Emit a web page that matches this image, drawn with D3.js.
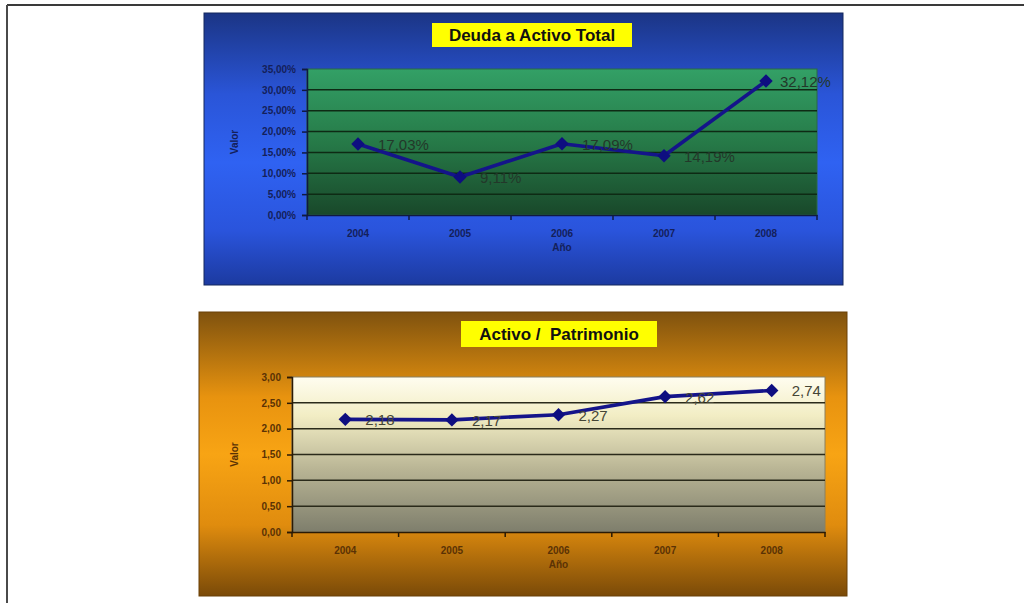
<!DOCTYPE html>
<html>
<head>
<meta charset="utf-8">
<script src="https://cdn.jsdelivr.net/npm/d3@7/dist/d3.min.js"></script>
<style>
  html, body { margin: 0; padding: 0; background: #fff; }
  svg { display: block; }
  text { font-family: "Liberation Sans", Arial, sans-serif; }
</style>
</head>
<body>
<svg id="page" width="1024" height="603"></svg>
<script>
// Años del período analizado
const years = ["2004", "2005", "2006", "2007", "2008"];

// Deuda a Activo Total (%)
const deudaActivo = [17.03, 9.11, 17.09, 14.19, 32.12];
const deudaTicks = [0, 5, 10, 15, 20, 25, 30, 35];

// Activo / Patrimonio (veces)
const activoPatrimonio = [2.18, 2.17, 2.27, 2.62, 2.74];
const activoTicks = [0, 0.5, 1, 1.5, 2, 2.5, 3];

const fmt2 = v => d3.format(".2f")(v).replace(".", ",");

const svg = d3.select("#page");
const defs = svg.append("defs");

function linGrad(id, stops) {
  const g = defs.append("linearGradient").attr("id", id)
    .attr("x1", 0).attr("y1", 0).attr("x2", 0).attr("y2", 1);
  stops.forEach(([o, c]) => g.append("stop").attr("offset", o).attr("stop-color", c));
}
linGrad("bgBlue", [[0, "#1b3585"], [0.3, "#2a55d8"], [0.55, "#2f62f2"], [0.8, "#2a54dc"], [1, "#1c3aa0"]]);
linGrad("plotGreen", [[0, "#33a066"], [0.5, "#267a48"], [1, "#19482a"]]);
linGrad("bgOrange", [[0, "#7f520e"], [0.3, "#e8930f"], [0.5, "#f8a414"], [0.75, "#e08c0e"], [1, "#7a4a08"]]);
linGrad("plotCream", [[0, "#fffdf0"], [0.25, "#f2edc4"], [0.6, "#b8b494"], [1, "#7e7e6c"]]);

// Página: bordes superior e izquierdo
svg.append("line").attr("x1", 7).attr("y1", 5).attr("x2", 1024).attr("y2", 5)
  .attr("stroke", "#3a3a3a").attr("stroke-width", 2);
svg.append("line").attr("x1", 7).attr("y1", 5).attr("x2", 7).attr("y2", 603)
  .attr("stroke", "#4a4a4a").attr("stroke-width", 2);

function drawChart(cfg) {
  const g = svg.append("g");
  // Fondo del gráfico
  g.append("rect").attr("x", cfg.box.x).attr("y", cfg.box.y)
    .attr("width", cfg.box.w).attr("height", cfg.box.h)
    .attr("fill", `url(#${cfg.bg})`).attr("stroke", cfg.boxStroke).attr("stroke-width", 1);

  // Título en recuadro amarillo
  g.append("rect").attr("x", cfg.title.x).attr("y", cfg.title.y)
    .attr("width", cfg.title.w).attr("height", cfg.title.h)
    .attr("fill", "#ffff00");
  g.append("text").attr("x", cfg.title.x + cfg.title.w / 2).attr("y", cfg.title.y + cfg.title.h / 2 + 6)
    .attr("text-anchor", "middle").attr("font-weight", "bold").attr("font-size", 17)
    .attr("fill", "#111").attr("xml:space", "preserve").text(cfg.title.text);

  const x = d3.scaleBand().domain(years).range([cfg.plot.x0, cfg.plot.x1]);
  const y = d3.scaleLinear().domain([0, cfg.yMax]).range([cfg.plot.y1, cfg.plot.y0]);

  // Área de trazado
  g.append("rect").attr("x", cfg.plot.x0).attr("y", cfg.plot.y0)
    .attr("width", cfg.plot.x1 - cfg.plot.x0).attr("height", cfg.plot.y1 - cfg.plot.y0)
    .attr("fill", `url(#${cfg.plotFill})`).attr("stroke", cfg.plotStroke).attr("stroke-width", 1);

  // Líneas de división
  g.append("g").selectAll("line").data(cfg.ticks.filter(t => t > 0 && t < cfg.yMax)).join("line")
    .attr("x1", cfg.plot.x0).attr("x2", cfg.plot.x1)
    .attr("y1", d => y(d)).attr("y2", d => y(d))
    .attr("stroke", cfg.gridColor).attr("stroke-width", 1.5);

  // Eje Y
  const yAxis = g.append("g").attr("transform", `translate(${cfg.plot.x0},0)`)
    .call(d3.axisLeft(y).tickValues(cfg.ticks).tickSize(5).tickPadding(6).tickFormat(cfg.tickFmt));
  yAxis.select(".domain").attr("stroke", cfg.axisColor).attr("stroke-width", 1.5);
  yAxis.selectAll(".tick line").attr("stroke", cfg.axisColor).attr("stroke-width", 1.5);
  yAxis.selectAll(".tick text").attr("fill", cfg.labelColor).attr("font-size", 10).attr("font-weight", "bold");

  // Eje X con marcas entre categorías
  const xAxis = g.append("g").attr("transform", `translate(0,${cfg.plot.y1})`)
    .call(d3.axisBottom(x).tickSize(0).tickPadding(15));
  xAxis.select(".domain").attr("stroke", cfg.axisColor).attr("stroke-width", 1.5);
  xAxis.selectAll(".tick text").attr("fill", cfg.labelColor).attr("font-size", 10).attr("font-weight", "bold");
  const bounds = years.map(d => x(d)).concat([x(years[years.length - 1]) + x.bandwidth()]);
  g.append("g").selectAll("line").data(bounds).join("line")
    .attr("x1", d => d).attr("x2", d => d)
    .attr("y1", cfg.plot.y1).attr("y2", cfg.plot.y1 + 5)
    .attr("stroke", cfg.axisColor).attr("stroke-width", 1.5);

  // Títulos de ejes
  g.append("text").attr("x", (cfg.plot.x0 + cfg.plot.x1) / 2).attr("y", cfg.plot.y1 + 36)
    .attr("text-anchor", "middle").attr("font-size", 10).attr("font-weight", "bold")
    .attr("fill", cfg.labelColor).text("Año");
  g.append("text")
    .attr("transform", `translate(${cfg.valorX},${(cfg.plot.y0 + cfg.plot.y1) / 2}) rotate(-90)`)
    .attr("text-anchor", "middle").attr("font-size", 10).attr("font-weight", "bold")
    .attr("fill", cfg.labelColor).text("Valor");

  // Serie
  const cx = d => x(d) + x.bandwidth() / 2;
  const pts = years.map((yr, i) => [cx(yr), y(cfg.values[i])]);
  g.append("path").datum(pts).attr("d", d3.line())
    .attr("fill", "none").attr("stroke", "#14148a").attr("stroke-width", 3.6)
    .attr("stroke-linejoin", "round");
  g.append("g").selectAll("path").data(pts).join("path")
    .attr("d", d3.symbol(d3.symbolDiamond2, 115)())
    .attr("transform", d => `translate(${d[0]},${d[1]})`)
    .attr("fill", "#0e0e80");

  // Etiquetas de datos
  g.append("g").selectAll("text").data(cfg.values).join("text")
    .attr("x", (d, i) => pts[i][0] + (i === cfg.values.length - 1 ? cfg.lastOffset : 20))
    .attr("y", (d, i) => pts[i][1] + 6)
    .attr("font-size", 15).attr("fill", cfg.valueColor)
    .text(cfg.valueFmt);
}

drawChart({
  box: { x: 204, y: 13, w: 639, h: 272 }, bg: "bgBlue", boxStroke: "#15285e",
  title: { x: 432, y: 23, w: 200, h: 24, text: "Deuda a Activo Total" },
  plot: { x0: 307, x1: 817, y0: 69, y1: 215 }, plotFill: "plotGreen", plotStroke: "#2a6a44",
  yMax: 35, ticks: deudaTicks, tickFmt: d => fmt2(d) + "%",
  values: deudaActivo, valueFmt: d => fmt2(d) + "%", lastOffset: 14,
  gridColor: "#0e2a14", axisColor: "#101a40", labelColor: "#14205a", valueColor: "#23382a",
  valorX: 238
});

drawChart({
  box: { x: 199, y: 312, w: 648, h: 284 }, bg: "bgOrange", boxStroke: "#6a4006",
  title: { x: 461, y: 321, w: 196, h: 26, text: "Activo /  Patrimonio" },
  plot: { x0: 292, x1: 825, y0: 377, y1: 532 }, plotFill: "plotCream", plotStroke: "#8a8060",
  yMax: 3, ticks: activoTicks, tickFmt: fmt2,
  values: activoPatrimonio, valueFmt: fmt2, lastOffset: 20,
  gridColor: "#2a2a1a", axisColor: "#2a1a05", labelColor: "#5a3205", valueColor: "#454535",
  valorX: 238
});
</script>
</body>
</html>
